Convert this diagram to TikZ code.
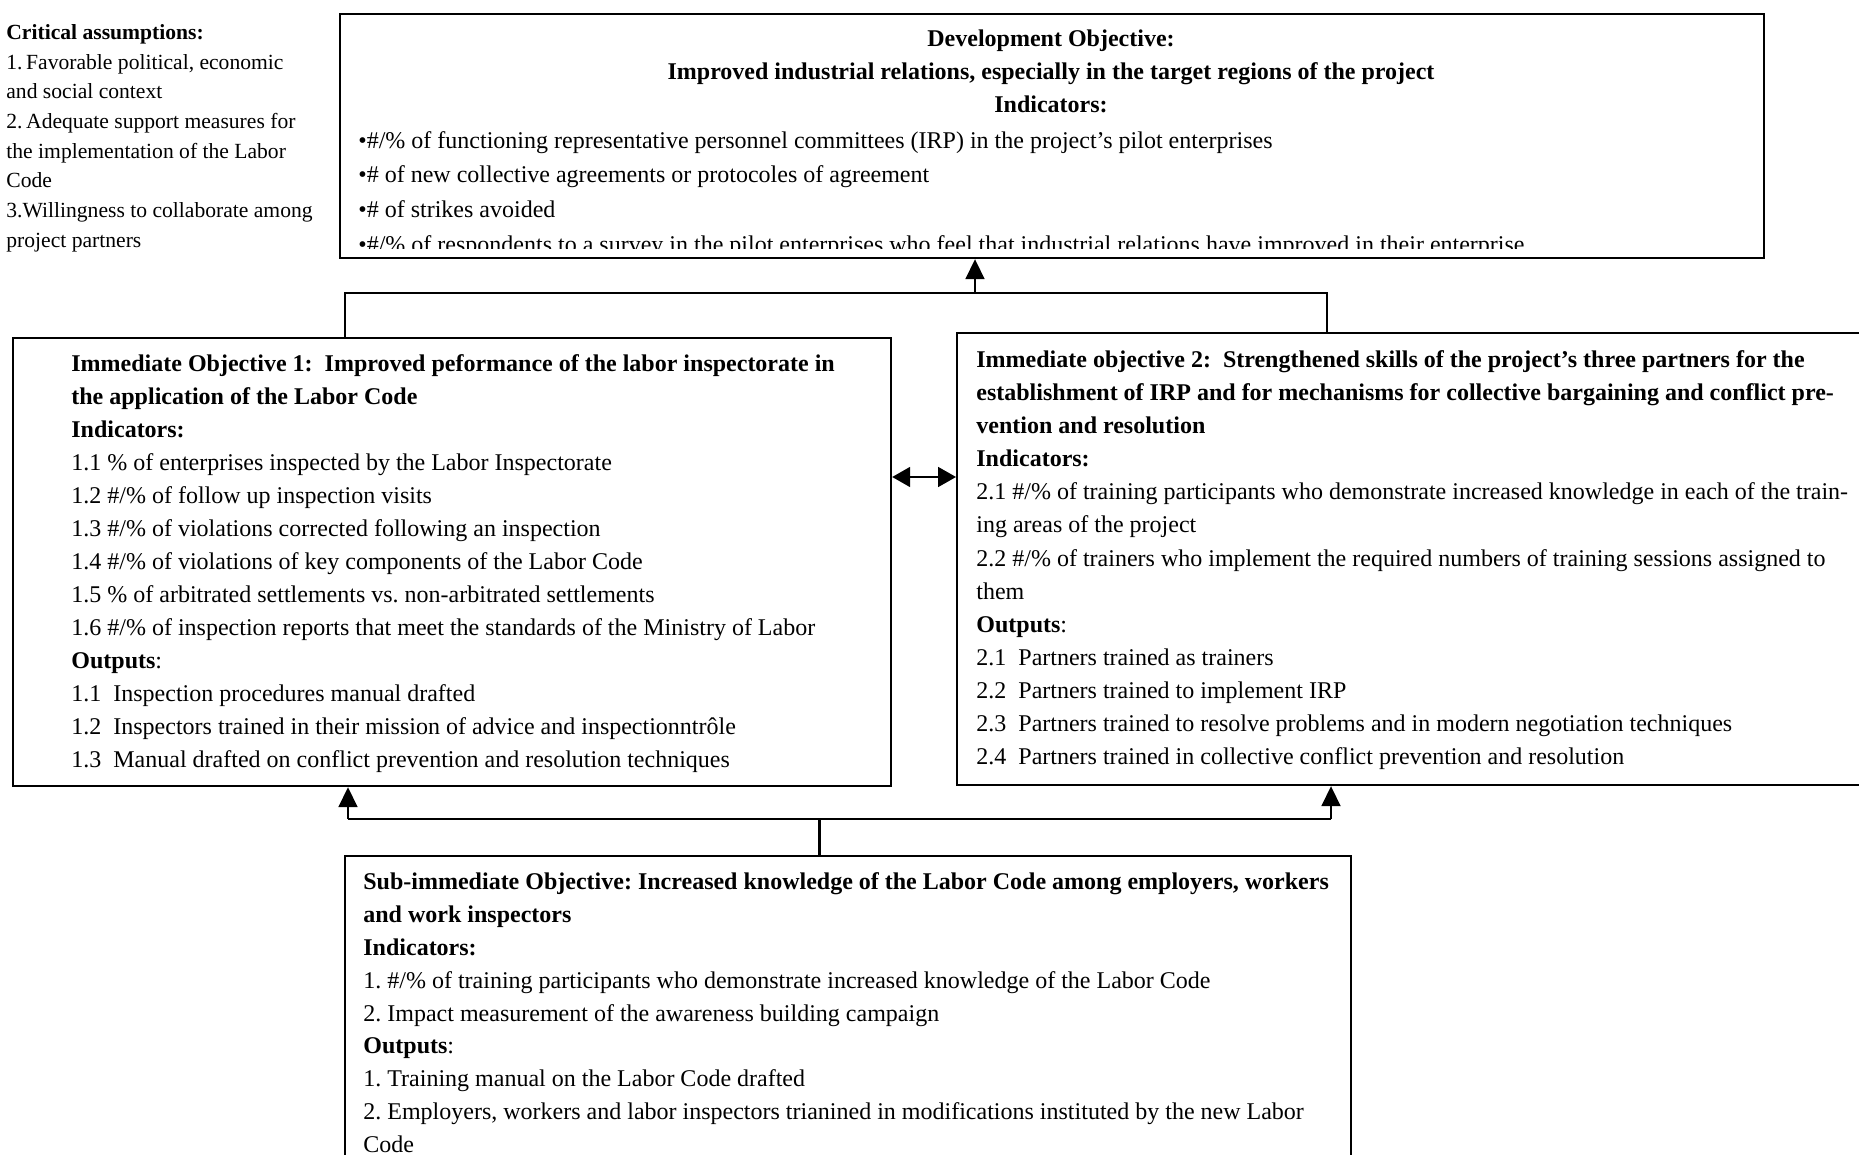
\documentclass[tikz,border=0pt]{standalone}
\usepackage{fontspec}
\setmainfont{Liberation Serif}
\usetikzlibrary{arrows.meta}
\newcommand{\topln}{\rule{0pt}{11pt}}
\begin{document}
\begin{tikzpicture}[x=0.5pt,y=-0.5pt]
	\tikzset{bx/.style={draw=black, line width=1.1pt, anchor=north west, inner sep=0pt}};
	\tikzset{txt/.style={anchor=north west, inner sep=0pt, align=left, font=\fontsize{12}{16.5}\selectfont\frenchspacing}};
	\tikzset{ln/.style={line width=0.9pt}};
	\tikzset{arr/.style={ln, -{Triangle[length=10pt,width=9.5pt]}}};

	\useasboundingbox (0,0) rectangle (1859,1155);

	\node[bx, minimum width=712pt, minimum height=122pt] (dev) at (339,13) {};
	\node[bx, minimum width=439pt, minimum height=224pt] (io1) at (12,337) {};
	\node[bx, minimum width=460pt, minimum height=226pt] (io2) at (956,332) {};
	\node[bx, minimum width=503pt, minimum height=161pt] (sub) at (344,855) {};

	\node[txt, font=\fontsize{10.8}{14.85}\selectfont\frenchspacing] (crit) at (6,17) {\topln\textbf{Critical assumptions:}\\1.\,Favorable political, economic\\and social context\\2.\,Adequate support measures for\\the implementation of the Labor\\Code\\3.Willingness to collaborate among\\project partners};

	\node[txt, align=center, anchor=north] (devhead) at (1051,24) {\topln\textbf{Development Objective:}\\\textbf{Improved industrial relations, especially in the target regions of the project}\\\textbf{Indicators:}};
	\begin{scope}
		\clip (dev.north west) rectangle (1763,249);
		\node[txt, font=\fontsize{12}{17.3}\selectfont\frenchspacing] (devind) at (358,126) {\topln•\#/\% of functioning representative personnel committees (IRP) in the project's pilot enterprises\\•\# of new collective agreements or protocoles of agreement\\•\# of strikes avoided\\•\#/\% of respondents to a survey in the pilot enterprises who feel that industrial relations have improved in their enterprise};
	\end{scope}

	\node[txt] (io1txt) at (71,349) {\topln\textbf{Immediate Objective 1:~ Improved peformance of the labor inspectorate in}\\\textbf{the application of the Labor Code}\\\textbf{Indicators:}\\1.1 \% of enterprises inspected by the Labor Inspectorate\\1.2 \#/\% of follow up inspection visits\\1.3 \#/\% of violations corrected following an inspection\\1.4 \#/\% of violations of key components of the Labor Code\\1.5 \% of arbitrated settlements vs. non-arbitrated settlements\\1.6 \#/\% of inspection reports that meet the standards of the Ministry of Labor\\\textbf{Outputs}:\\1.1~ Inspection procedures manual drafted\\1.2~ Inspectors trained in their mission of advice and inspectionntrôle\\1.3~ Manual drafted on conflict prevention and resolution techniques};

	\node[txt, font=\fontsize{12}{16.55}\selectfont\frenchspacing] (io2txt) at (976,345) {\topln\textbf{Immediate objective 2:~ Strengthened skills of the project's three partners for the}\\\textbf{establishment of IRP and for mechanisms for collective bargaining and conflict pre-}\\\textbf{vention and resolution}\\\textbf{Indicators:}\\2.1 \#/\% of training participants who demonstrate increased knowledge in each of the train-\\ing areas of the project\\2.2 \#/\% of trainers who implement the required numbers of training sessions assigned to\\them\\\textbf{Outputs}:\\2.1~ Partners trained as trainers\\2.2~ Partners trained to implement IRP\\2.3~ Partners trained to resolve problems and in modern negotiation techniques\\2.4~ Partners trained in collective conflict prevention and resolution};

	\node[txt, font=\fontsize{12}{16.45}\selectfont\frenchspacing] (subtxt) at (363,867) {\topln\textbf{Sub-immediate Objective: Increased knowledge of the Labor Code among employers, workers}\\\textbf{and work inspectors}\\\textbf{Indicators:}\\1. \#/\% of training participants who demonstrate increased knowledge of the Labor Code\\2. Impact measurement of the awareness building campaign\\\textbf{Outputs}:\\1. Training manual on the Labor Code drafted\\2. Employers, workers and labor inspectors trianined in modifications instituted by the new Labor\\Code};

	\coordinate (t1) at (345,293);
	\coordinate (t2) at (1327,293);
	\coordinate (tm) at (975,293);
	\coordinate (mid) at (923,477);
	\coordinate (b1) at (348,819);
	\coordinate (b2) at (1331,819);
	\coordinate (bm) at (819,819);

	\draw[ln] (io1.north -| t1) -- (t1) -- (t2) -- (io2.north -| t2);
	\draw[arr] (tm) to (tm |- dev.south);

	\draw[ln, {Triangle[length=9pt,width=10pt]}-{Triangle[length=9pt,width=10pt]}] (mid -| io1.east) to (mid -| io2.west);

	\draw[ln] (b1) -- (b2);
	\draw[arr] (b1) to (b1 |- io1.south);
	\draw[arr] (b2) to (b2 |- io2.south);
	\draw[ln, line width=1.5pt] (bm) to (bm |- sub.north);

\end{tikzpicture}
\end{document}
